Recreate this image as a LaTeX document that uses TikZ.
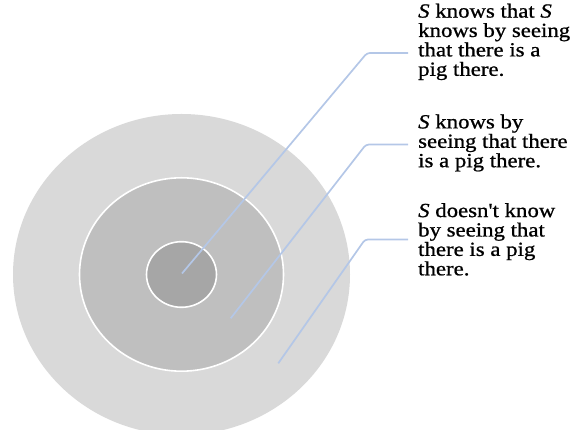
\documentclass[tikz,border=0pt]{standalone}
\usepackage{fontspec}
\setmainfont{Liberation Serif}[Ligatures=TeXOff, FakeStretch=1.14, FakeBold=0.9]
\definecolor{ringA}{HTML}{D9D9D9}
\definecolor{ringB}{HTML}{BFBFBF}
\definecolor{ringC}{HTML}{A6A6A6}
\definecolor{leader}{HTML}{B4C7E7}
\tikzset{
  ring/.style={draw=white, line width=1.6pt},
  leaderline/.style={draw=leader, line width=1.7pt, rounded corners=3pt},
  lbl/.style={anchor=north west, inner sep=0pt, align=left,
    font=\fontsize{20}{19.4}\selectfont, text=black}
}
\begin{document}
\begin{tikzpicture}[x=1pt,y=1pt]
\useasboundingbox (0,0) rectangle (576,430);
\begin{scope}
\clip (0,0) rectangle (576,430);
\fill[ringA] (181.5,155.5) ellipse [x radius=168.5, y radius=160.5];
\end{scope}
\path[ring, fill=ringB] (181.5,155.5) ellipse [x radius=102, y radius=96.7];
\path[ring, fill=ringC] (181.5,155.5) ellipse [x radius=35, y radius=32.8];

\coordinate (s1) at (182,156.5);
\coordinate (k1) at (367,377);
\coordinate (e1) at (408,377);
\coordinate (s2) at (230.7,111.7);
\coordinate (k2) at (366,285.5);
\coordinate (e2) at (408,285.5);
\coordinate (s3) at (278.3,66.7);
\coordinate (k3) at (365,190.5);
\coordinate (e3) at (408,190.5);

\draw[leaderline] (s1) -- (k1) -- (e1);
\draw[leaderline] (s2) -- (k2) -- (e2);
\draw[leaderline] (s3) -- (k3) -- (e3);

\node[lbl] (t1) at (418,426.5) {\textit{S} knows that \textit{S}\\knows by seeing\\that there is a\\pig there.};
\node[lbl] (t2) at (418,315.7) {\textit{S} knows by\\seeing that there\\is a pig there.};
\node[lbl] (t3) at (418,227) {\textit{S} doesn't know\\by seeing that\\there is a pig\\there.};
\end{tikzpicture}
\end{document}
